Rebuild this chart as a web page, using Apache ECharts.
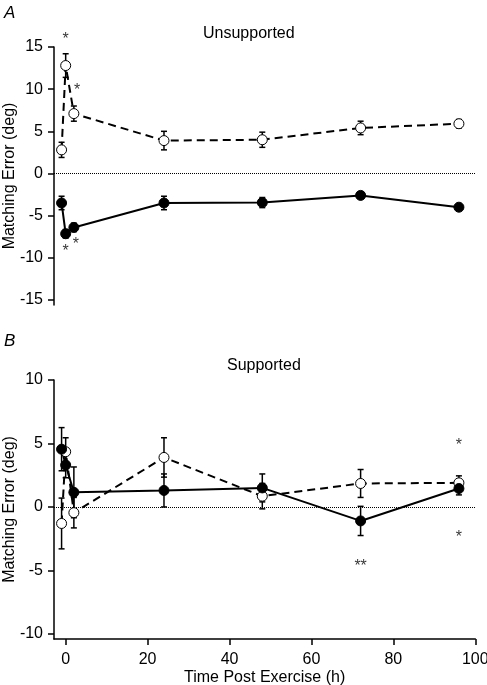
<!DOCTYPE html>
<html>
<head>
<meta charset="utf-8">
<script src="https://cdn.jsdelivr.net/npm/echarts@6/dist/echarts.min.js"></script>
<style>
html,body{margin:0;padding:0;background:#fff;}
#chart{width:487px;height:685px;}
</style>
</head>
<body>
<div id="chart"></div>
<script>
// ---- data ----
var times = [-1, 0, 2, 24, 48, 72, 96];
var xTicks = [0, 20, 40, 60, 80, 100];
var yTicksA = [-15, -10, -5, 0, 5, 10, 15];
var yTicksB = [-10, -5, 0, 5, 10];

// Panel A (Unsupported)
var openA = [2.8, 12.8, 7.1, 3.9, 4.0, 5.4, 5.9];
var openAErr = [0.9, 1.4, 0.9, 1.1, 0.9, 0.8, 0.5];
var filledA = [-3.5, -7.15, -6.4, -3.5, -3.45, -2.6, -4.0];
var filledAErr = [0.8, 0.5, 0.5, 0.8, 0.6, 0.2, 0.2];
var starsA = [[0, 15.9, '*'], [2.8, 9.8, '*'], [0, -9.3, '*'], [2.5, -8.4, '*']];

// Panel B (Supported)
var filledB = [4.55, 3.3, 1.15, 1.3, 1.5, -1.1, 1.45];
var filledBErr = [1.7, 1.0, 2.0, 1.3, 1.1, 1.15, 0.5];
var openB = [-1.3, 4.35, -0.45, 3.9, 0.85, 1.85, 1.9];
var openBErr = [2.0, 1.1, 1.2, 1.55, 1.0, 1.1, 0.55];
var starsB = [[96, 4.8, '*'], [96, -2.45, '*'], [72, -4.7, '**']];

// ---- helpers ----
function pts(v) { return times.map(function (t, i) { return [t, v[i]]; }); }
function errs(v, e) { return times.map(function (t, i) { return [t, v[i] - e[i], v[i] + e[i]]; }); }

function renderErr(params, api) {
  var x = api.value(0), lo = api.value(1), hi = api.value(2);
  var p1 = api.coord([x, hi]), p2 = api.coord([x, lo]);
  var w = 3;
  var st = { stroke: '#000', lineWidth: 1.5 };
  return {
    type: 'group',
    children: [
      { type: 'line', shape: { x1: p1[0], y1: p1[1], x2: p2[0], y2: p2[1] }, style: st },
      { type: 'line', shape: { x1: p1[0] - w, y1: p1[1], x2: p1[0] + w, y2: p1[1] }, style: st },
      { type: 'line', shape: { x1: p2[0] - w, y1: p2[1], x2: p2[0] + w, y2: p2[1] }, style: st }
    ]
  };
}

var FONT = 'Liberation Sans, Arial, Helvetica, sans-serif';

function yAxisCfg(idx, min, max, ticks) {
  return {
    type: 'value', gridIndex: idx, min: min, max: max,
    name: 'Matching Error (deg)', nameLocation: 'middle', nameGap: 36, nameMoveOverlap: false,
    nameTextStyle: { fontSize: 16, color: '#000', fontFamily: FONT },
    axisLine: { show: true, onZero: false, lineStyle: { color: '#000', width: 1.5 } },
    axisTick: { show: true, length: 6, customValues: ticks, lineStyle: { color: '#000', width: 1.5 } },
    axisLabel: { show: true, customValues: ticks, margin: 11, fontSize: 16, color: '#000', fontFamily: FONT },
    splitLine: { show: false }
  };
}

function lineSeries(data, xi, yi, open, dashed) {
  return {
    type: 'line', xAxisIndex: xi, yAxisIndex: yi, data: data, z: 3,
    symbol: 'circle', symbolSize: 10, showAllSymbol: true,
    itemStyle: { color: open ? '#fff' : '#000', borderColor: '#000', borderWidth: 1 },
    lineStyle: { color: '#000', width: 2, type: dashed ? [8, 5] : 'solid' },
    animation: false, silent: true
  };
}
function errSeries(data, xi, yi) {
  return { type: 'custom', xAxisIndex: xi, yAxisIndex: yi, data: data, renderItem: renderErr, z: 2, clip: false, animation: false, silent: true };
}
function starSeries(data, xi, yi) {
  return {
    type: 'scatter', xAxisIndex: xi, yAxisIndex: yi, symbolSize: 0, z: 4, clip: false, animation: false, silent: true,
    data: data.map(function (d) { return { value: [d[0], d[1]], name: d[2] }; }),
    label: { show: true, position: 'inside', formatter: '{b}', fontSize: 16, color: '#000', fontFamily: FONT }
  };
}
function zeroLine(xi, yi) {
  return {
    type: 'line', xAxisIndex: xi, yAxisIndex: yi, data: [], z: 1,
    markLine: {
      silent: true, symbol: 'none', animation: false, label: { show: false },
      lineStyle: { color: '#000', width: 1, type: [1, 1] },
      data: [{ yAxis: 0 }]
    }
  };
}

var chart = echarts.init(document.getElementById('chart'), null, { renderer: 'canvas' });
chart.setOption({
  backgroundColor: '#fff',
  animation: false,
  title: [
    { text: 'Unsupported', left: 203, top: 26, padding: 0, textStyle: { fontSize: 16, fontWeight: 'normal', color: '#000', fontFamily: FONT } },
    { text: 'Supported', left: 227, top: 358, padding: 0, textStyle: { fontSize: 16, fontWeight: 'normal', color: '#000', fontFamily: FONT } },
    { text: 'A', left: 4, top: 5, padding: 0, textStyle: { fontSize: 17, fontWeight: 'normal', fontStyle: 'italic', color: '#000', fontFamily: FONT } },
    { text: 'B', left: 4, top: 333, padding: 0, textStyle: { fontSize: 17, fontWeight: 'normal', fontStyle: 'italic', color: '#000', fontFamily: FONT } }
  ],
  grid: [
    { left: 54, top: 47, width: 421.3, height: 258, containLabel: false, outerBoundsMode: 'none' },
    { left: 54, top: 380, width: 421.3, height: 259, containLabel: false, outerBoundsMode: 'none' }
  ],
  xAxis: [
    { type: 'value', gridIndex: 0, min: -2.85, max: 100, show: false },
    {
      type: 'value', gridIndex: 1, min: -2.85, max: 100,
      name: 'Time Post Exercise (h)', nameLocation: 'middle', nameGap: 31, nameMoveOverlap: false,
      nameTextStyle: { fontSize: 16, color: '#000', fontFamily: FONT },
      axisLine: { show: true, onZero: false, lineStyle: { color: '#000', width: 1.5 } },
      axisTick: { show: true, length: 6, customValues: xTicks, lineStyle: { color: '#000', width: 1.5 } },
      axisLabel: { show: true, customValues: xTicks, margin: 13, fontSize: 16, color: '#000', fontFamily: FONT },
      splitLine: { show: false }
    }
  ],
  yAxis: [
    yAxisCfg(0, -15.6, 15, yTicksA),
    yAxisCfg(1, -10.4, 10, yTicksB)
  ],
  series: [
    zeroLine(0, 0),
    zeroLine(1, 1),
    errSeries(errs(openA, openAErr), 0, 0),
    errSeries(errs(filledA, filledAErr), 0, 0),
    lineSeries(pts(openA), 0, 0, true, true),
    lineSeries(pts(filledA), 0, 0, false, false),
    starSeries(starsA, 0, 0),
    errSeries(errs(openB, openBErr), 1, 1),
    errSeries(errs(filledB, filledBErr), 1, 1),
    lineSeries(pts(openB), 1, 1, true, true),
    lineSeries(pts(filledB), 1, 1, false, false),
    starSeries(starsB, 1, 1)
  ]
});
</script>
</body>
</html>
